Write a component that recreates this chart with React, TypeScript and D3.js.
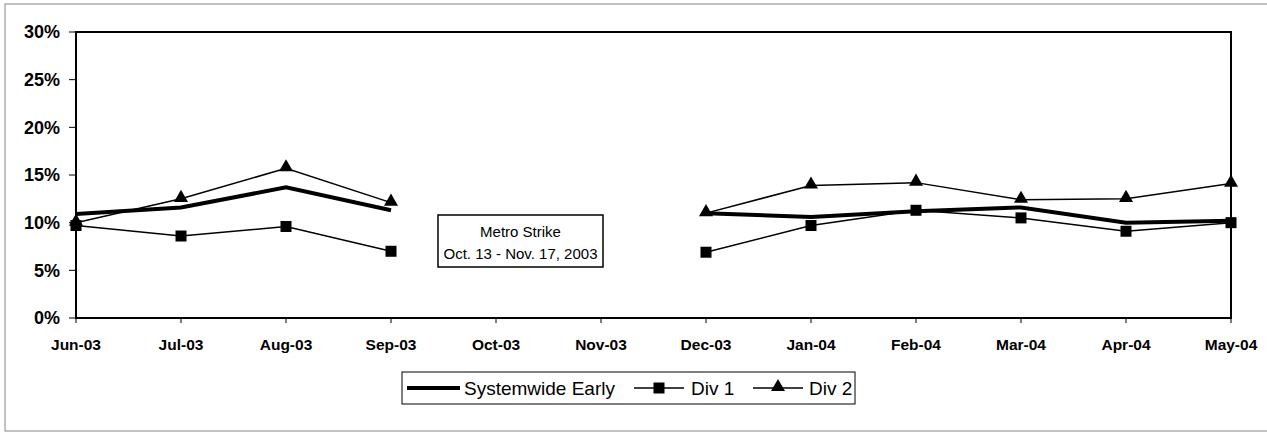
import React from "react";
import * as d3 from "d3";

const months = ["Jun-03","Jul-03","Aug-03","Sep-03","Oct-03","Nov-03","Dec-03","Jan-04","Feb-04","Mar-04","Apr-04","May-04"];
const systemwide: (number|null)[] = [0.109,0.116,0.137,0.113,null,null,0.110,0.106,0.112,0.116,0.100,0.102];
const div1: (number|null)[] = [0.097,0.086,0.096,0.070,null,null,0.069,0.097,0.113,0.105,0.091,0.100];
const div2: (number|null)[] = [0.100,0.125,0.157,0.121,null,null,0.110,0.139,0.142,0.124,0.125,0.141];
const yTicks = [0,0.05,0.10,0.15,0.20,0.25,0.30];
const seriesNames = ["Systemwide Early","Div 1","Div 2"];
const noteLines = ["Metro Strike","Oct. 13 - Nov. 17, 2003"];

const W = 1267, H = 433;
const L = 76, R = 1231, T = 32, B = 318;
const FONT = "'Liberation Sans', Arial, sans-serif";

export default function App() {
  const x = d3.scalePoint<string>().domain(months).range([L, R]);
  const y = d3.scaleLinear().domain([0, 0.3]).range([B, T]);
  const line = d3.line<number|null>()
    .defined(d => d !== null)
    .x((_, i) => x(months[i]) as number)
    .y(d => y(d as number));
  const tri = d3.symbol().type(d3.symbolTriangle).size(85)();
  const sq = 11;

  const squares = (data: (number|null)[], key: string) =>
    data.map((v, i) => v === null ? null :
      <rect key={key + i} x={(x(months[i]) as number) - sq / 2} y={y(v) - sq / 2} width={sq} height={sq} fill="#000" />);
  const triangles = (data: (number|null)[], key: string) =>
    data.map((v, i) => v === null ? null :
      <path key={key + i} d={tri as string} transform={`translate(${x(months[i])},${y(v) - 1})`} fill="#000" />);

  const lgY = 388;
  return (
    <svg width={W} height={H} style={{ position: "absolute", left: 0, top: 0, background: "#fff" }} fontFamily={FONT}>
      <rect x={0} y={0} width={W} height={H} fill="#fff" />
      <rect x={5} y={4} width={W + 10} height={427} fill="none" stroke="#9a9a9a" strokeWidth={1.2} />
      {yTicks.map(t => (
        <g key={t}>
          <line x1={L - 7} x2={L} y1={y(t)} y2={y(t)} stroke="#000" strokeWidth={1} />
          <text x={60} y={y(t)} dy="0.35em" textAnchor="end" fontWeight="bold" fontSize={18}>{d3.format(".0%")(t)}</text>
        </g>
      ))}
      {months.map(m => (
        <g key={m}>
          <line x1={x(m)} x2={x(m)} y1={B} y2={B + 5} stroke="#000" strokeWidth={1} />
          <text x={x(m)} y={350} textAnchor="middle" fontWeight="bold" fontSize={15.5}>{m}</text>
        </g>
      ))}
      <path d={line(div2) || ""} fill="none" stroke="#000" strokeWidth={1.5} />
      <path d={line(div1) || ""} fill="none" stroke="#000" strokeWidth={1.5} />
      <path d={line(systemwide) || ""} fill="none" stroke="#000" strokeWidth={4} />
      {triangles(div2, "t")}
      {squares(div1, "s")}
      <rect x={L} y={T} width={R - L} height={B - T} fill="none" stroke="#000" strokeWidth={2} />
      <rect x={438} y={215} width={165} height={52} fill="#fff" stroke="#000" strokeWidth={1.5} />
      <text x={520.5} y={237} textAnchor="middle" fontSize={15}>{noteLines[0]}</text>
      <text x={520.5} y={259} textAnchor="middle" fontSize={15}>{noteLines[1]}</text>
      <rect x={402} y={372} width={453} height={32} fill="#fff" stroke="#000" strokeWidth={1} />
      <line x1={407} x2={460} y1={lgY} y2={lgY} stroke="#000" strokeWidth={4} />
      <text x={464} y={lgY} dy="0.35em" fontSize={19}>{seriesNames[0]}</text>
      <line x1={634} x2={684} y1={lgY} y2={lgY} stroke="#000" strokeWidth={1.5} />
      <rect x={659 - sq / 2} y={lgY - sq / 2} width={sq} height={sq} fill="#000" />
      <text x={691} y={lgY} dy="0.35em" fontSize={19}>{seriesNames[1]}</text>
      <line x1={753} x2={803} y1={lgY} y2={lgY} stroke="#000" strokeWidth={1.5} />
      <path d={tri as string} transform={`translate(778,${lgY - 1})`} fill="#000" />
      <text x={809} y={lgY} dy="0.35em" fontSize={19}>{seriesNames[2]}</text>
    </svg>
  );
}
